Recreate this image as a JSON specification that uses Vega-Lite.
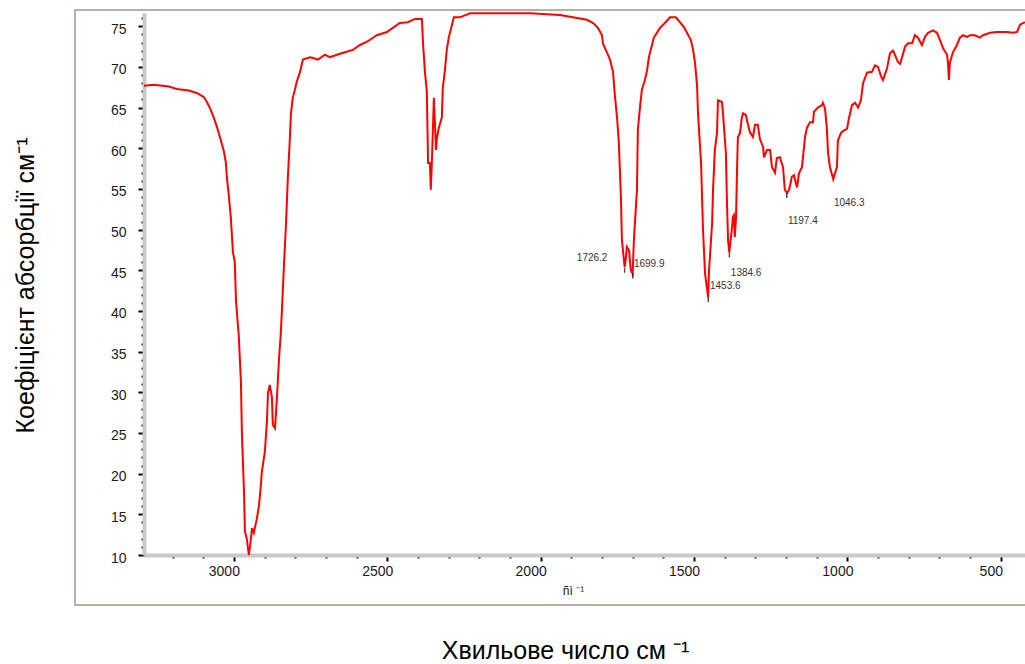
{
  "$schema": "https://vega.github.io/schema/vega-lite/v6.json",
  "width": 960,
  "height": 595,
  "autosize": {"type": "none"},
  "padding": {"left": 75, "top": 10, "right": 0, "bottom": 59},
  "background": "white",
  "config": {"view": {"stroke": "#b5b1a4", "strokeWidth": 2}, "font": "Liberation Sans"},
  "datasets": {
    "spectrum": [
      {"wn":3293,"A":67.7},{"wn":3261,"A":67.8},{"wn":3212,"A":67.6},{"wn":3186,"A":67.3},{"wn":3147,"A":67.1},
      {"wn":3121,"A":66.8},{"wn":3098,"A":66.3},{"wn":3088,"A":65.7},{"wn":3075,"A":64.7},{"wn":3065,"A":63.7},
      {"wn":3055,"A":62.6},{"wn":3042,"A":60.9},{"wn":3033,"A":59.7},{"wn":3026,"A":58.2},{"wn":3023,"A":56.5},
      {"wn":3016,"A":54.0},{"wn":3010,"A":51.5},{"wn":3003,"A":47.2},{"wn":2997,"A":46.0},{"wn":2993,"A":41.2},
      {"wn":2984,"A":36.9},{"wn":2977,"A":31.3},{"wn":2974,"A":25.2},{"wn":2967,"A":17.7},{"wn":2964,"A":12.9},
      {"wn":2958,"A":12.0},{"wn":2951,"A":10.0},{"wn":2945,"A":11.8},{"wn":2941,"A":13.3},{"wn":2935,"A":12.7},
      {"wn":2925,"A":14.5},{"wn":2918,"A":16.1},{"wn":2912,"A":18.6},{"wn":2909,"A":20.2},{"wn":2899,"A":22.7},
      {"wn":2892,"A":26.6},{"wn":2889,"A":29.9},{"wn":2883,"A":30.9},{"wn":2876,"A":29.4},{"wn":2873,"A":26.0},
      {"wn":2866,"A":25.6},{"wn":2860,"A":29.1},{"wn":2853,"A":34.0},{"wn":2847,"A":37.3},{"wn":2843,"A":40.4},
      {"wn":2837,"A":45.4},{"wn":2830,"A":50.8},{"wn":2824,"A":56.4},{"wn":2817,"A":61.6},{"wn":2814,"A":64.3},
      {"wn":2808,"A":66.2},{"wn":2801,"A":67.2},{"wn":2795,"A":68.2},{"wn":2785,"A":69.3},{"wn":2775,"A":70.9},
      {"wn":2752,"A":71.2},{"wn":2742,"A":71.1},{"wn":2726,"A":70.9},{"wn":2703,"A":71.5},{"wn":2687,"A":71.2},
      {"wn":2664,"A":71.5},{"wn":2638,"A":71.8},{"wn":2612,"A":72.1},{"wn":2589,"A":72.7},{"wn":2566,"A":73.1},
      {"wn":2534,"A":73.9},{"wn":2501,"A":74.3},{"wn":2482,"A":74.8},{"wn":2459,"A":75.4},{"wn":2433,"A":75.5},
      {"wn":2410,"A":75.9},{"wn":2387,"A":75.9},{"wn":2384,"A":73.3},{"wn":2377,"A":69.3},{"wn":2371,"A":67.0},
      {"wn":2367,"A":58.2},{"wn":2361,"A":58.2},{"wn":2358,"A":54.9},{"wn":2354,"A":58.9},{"wn":2348,"A":66.2},
      {"wn":2341,"A":59.8},{"wn":2338,"A":61.3},{"wn":2332,"A":62.5},{"wn":2322,"A":63.8},{"wn":2319,"A":67.4},
      {"wn":2312,"A":69.6},{"wn":2306,"A":72.1},{"wn":2299,"A":73.7},{"wn":2289,"A":75.2},{"wn":2283,"A":76.1},
      {"wn":2263,"A":76.1},{"wn":2230,"A":76.6},{"wn":2133,"A":76.6},{"wn":2035,"A":76.6},{"wn":1937,"A":76.4},
      {"wn":1895,"A":76.1},{"wn":1849,"A":75.8},{"wn":1829,"A":75.4},{"wn":1813,"A":74.8},{"wn":1800,"A":73.9},
      {"wn":1797,"A":72.9},{"wn":1784,"A":71.8},{"wn":1774,"A":70.9},{"wn":1764,"A":69.4},{"wn":1758,"A":66.5},
      {"wn":1751,"A":63.8},{"wn":1745,"A":60.7},{"wn":1738,"A":53.6},{"wn":1735,"A":48.7},{"wn":1726,"A":45.4},
      {"wn":1722,"A":46.6},{"wn":1719,"A":47.9},{"wn":1712,"A":47.5},{"wn":1706,"A":45.0},{"wn":1700,"A":44.6},
      {"wn":1696,"A":48.7},{"wn":1686,"A":54.9},{"wn":1683,"A":62.3},{"wn":1676,"A":65.1},{"wn":1670,"A":67.2},
      {"wn":1660,"A":68.4},{"wn":1653,"A":69.6},{"wn":1647,"A":71.2},{"wn":1637,"A":72.7},{"wn":1631,"A":73.6},
      {"wn":1621,"A":74.2},{"wn":1611,"A":74.8},{"wn":1595,"A":75.4},{"wn":1578,"A":76.1},{"wn":1559,"A":76.1},
      {"wn":1546,"A":75.5},{"wn":1533,"A":74.9},{"wn":1523,"A":74.2},{"wn":1510,"A":73.3},{"wn":1503,"A":72.1},
      {"wn":1497,"A":70.6},{"wn":1490,"A":67.7},{"wn":1487,"A":64.3},{"wn":1477,"A":58.2},{"wn":1471,"A":50.3},
      {"wn":1464,"A":44.6},{"wn":1454,"A":41.7},{"wn":1451,"A":45.0},{"wn":1441,"A":50.8},{"wn":1438,"A":54.9},
      {"wn":1432,"A":59.8},{"wn":1425,"A":61.9},{"wn":1422,"A":65.9},{"wn":1409,"A":65.7},{"wn":1406,"A":64.5},
      {"wn":1396,"A":59.4},{"wn":1393,"A":54.0},{"wn":1389,"A":48.7},{"wn":1385,"A":47.2},{"wn":1376,"A":50.3},
      {"wn":1373,"A":51.6},{"wn":1370,"A":51.8},{"wn":1367,"A":49.1},{"wn":1363,"A":51.5},{"wn":1360,"A":57.0},
      {"wn":1357,"A":61.4},{"wn":1350,"A":61.9},{"wn":1344,"A":63.8},{"wn":1340,"A":64.3},{"wn":1331,"A":64.1},
      {"wn":1324,"A":62.9},{"wn":1318,"A":62.0},{"wn":1308,"A":61.4},{"wn":1301,"A":62.9},{"wn":1292,"A":62.9},
      {"wn":1285,"A":61.1},{"wn":1275,"A":60.2},{"wn":1272,"A":58.9},{"wn":1262,"A":59.8},{"wn":1252,"A":59.8},
      {"wn":1246,"A":57.7},{"wn":1236,"A":57.0},{"wn":1230,"A":58.8},{"wn":1220,"A":58.9},{"wn":1210,"A":57.7},
      {"wn":1204,"A":54.9},{"wn":1197,"A":54.5},{"wn":1190,"A":54.9},{"wn":1181,"A":56.5},{"wn":1174,"A":56.7},
      {"wn":1168,"A":55.7},{"wn":1164,"A":55.2},{"wn":1158,"A":56.9},{"wn":1148,"A":57.7},{"wn":1138,"A":61.4},
      {"wn":1132,"A":62.5},{"wn":1122,"A":63.2},{"wn":1112,"A":63.2},{"wn":1109,"A":64.5},{"wn":1096,"A":65.0},
      {"wn":1083,"A":65.3},{"wn":1080,"A":65.6},{"wn":1073,"A":64.9},{"wn":1067,"A":62.5},{"wn":1063,"A":59.4},
      {"wn":1057,"A":57.7},{"wn":1046,"A":56.2},{"wn":1040,"A":57.0},{"wn":1034,"A":57.7},{"wn":1031,"A":60.9},
      {"wn":1021,"A":61.9},{"wn":1011,"A":62.2},{"wn":1001,"A":62.4},{"wn":995,"A":63.7},{"wn":985,"A":65.3},
      {"wn":975,"A":65.6},{"wn":965,"A":65.0},{"wn":956,"A":65.9},{"wn":949,"A":68.0},{"wn":936,"A":69.3},
      {"wn":920,"A":69.4},{"wn":910,"A":70.2},{"wn":900,"A":70.0},{"wn":890,"A":68.8},{"wn":884,"A":68.4},
      {"wn":871,"A":69.8},{"wn":861,"A":71.7},{"wn":851,"A":72.0},{"wn":835,"A":70.6},{"wn":828,"A":70.4},
      {"wn":812,"A":72.5},{"wn":802,"A":72.9},{"wn":789,"A":72.9},{"wn":780,"A":73.9},{"wn":770,"A":73.6},
      {"wn":757,"A":72.7},{"wn":747,"A":73.7},{"wn":737,"A":74.2},{"wn":721,"A":74.5},{"wn":708,"A":74.2},
      {"wn":698,"A":73.3},{"wn":688,"A":72.3},{"wn":675,"A":71.5},{"wn":672,"A":70.5},{"wn":669,"A":68.4},
      {"wn":666,"A":70.5},{"wn":656,"A":71.8},{"wn":643,"A":72.7},{"wn":633,"A":73.6},{"wn":623,"A":73.9},
      {"wn":610,"A":73.7},{"wn":600,"A":73.9},{"wn":584,"A":73.9},{"wn":568,"A":73.6},{"wn":558,"A":73.9},
      {"wn":535,"A":74.2},{"wn":512,"A":74.3},{"wn":480,"A":74.3},{"wn":460,"A":74.2},{"wn":447,"A":74.3},
      {"wn":437,"A":75.2},{"wn":421,"A":75.5}
    ],
    "peaks": [
      {"wn":1882,"A":46.5,"label":"1726.2"},
      {"wn":1696,"A":45.8,"label":"1699.9"},
      {"wn":1448,"A":43.1,"label":"1453.6"},
      {"wn":1380,"A":44.7,"label":"1384.6"},
      {"wn":1194,"A":51.1,"label":"1197.4"},
      {"wn":1044,"A":53.3,"label":"1046.3"}
    ],
    "tips": [
      {"wn":1726.2,"A":45.0},
      {"wn":1699.9,"A":44.3},
      {"wn":1453.6,"A":41.4},
      {"wn":1384.6,"A":46.9},
      {"wn":1197.4,"A":54.2}
    ]
  },
  "layer": [
    {
      "data": {"name": "spectrum"},
      "mark": {"type": "line", "color": "#ff0000", "strokeWidth": 2, "interpolate": "linear"},
      "encoding": {
        "x": {
          "field": "wn", "type": "quantitative",
          "scale": {"domain": [3293, 421], "range": [69, 950], "nice": false, "zero": false},
          "axis": {
            "orient": "bottom", "offset": -50,
            "values": [500,600,700,800,900,1000,1100,1200,1300,1400,1500,1600,1700,1800,1900,2000,2100,2200,2300,2400,2500,2600,2700,2800,2900,3000,3100,3200],
            "format": "d",
            "labelExpr": "datum.value % 500 === 0 ? datum.label : ''",
            "labelOverlap": false, "labelFlush": false,
            "tickSize": {"condition": {"test": "datum.value % 500 === 0", "value": 6}, "value": 3},
            "tickColor": "black", "tickWidth": 2,
            "domainColor": "#c8c8c8", "domainWidth": 4,
            "labelFont": "Liberation Sans", "labelFontSize": 14, "labelColor": "#1a1a1a",
            "labelOffset": -10, "labelPadding": 3,
            "grid": false,
            "title": "ñì ⁻¹", "titleFont": "Liberation Sans", "titleFontSize": 12, "titleFontWeight": "normal",
            "titleColor": "#1a1a1a", "titleX": 498, "titleY": 35, "titleAlign": "center", "titleBaseline": "middle"
          }
        },
        "y": {
          "field": "A", "type": "quantitative",
          "scale": {"domain": [10, 76.67], "range": [545, 2.7], "nice": false, "zero": false},
          "axis": {
            "orient": "left", "offset": -69,
            "values": [10,11,12,13,14,15,16,17,18,19,20,21,22,23,24,25,26,27,28,29,30,31,32,33,34,35,36,37,38,39,40,41,42,43,44,45,46,47,48,49,50,51,52,53,54,55,56,57,58,59,60,61,62,63,64,65,66,67,68,69,70,71,72,73,74,75,76],
            "format": "d",
            "labelExpr": "datum.value % 5 === 0 ? datum.label : ''",
            "labelOverlap": false, "labelFlush": false,
            "tickSize": {"condition": {"test": "datum.value % 5 === 0", "value": 6}, "value": 3},
            "tickColor": "black", "tickWidth": 2,
            "domainColor": "#c8c8c8", "domainWidth": 4,
            "labelFont": "Liberation Sans", "labelFontSize": 14, "labelColor": "#1a1a1a",
            "labelOffset": 3, "labelPadding": 12,
            "grid": false,
            "title": "Коефіцієнт абсорбції см⁻¹",
            "titleFont": "Liberation Sans Narrow, Liberation Sans", "titleFontSize": 25, "titleFontWeight": "normal",
            "titleColor": "black", "titleAngle": 270, "titleX": -119, "titleY": 275,
            "titleAlign": "center", "titleBaseline": "middle"
          }
        }
      }
    },
    {
      "data": {"name": "tips"},
      "mark": {"type": "tick", "orient": "vertical", "size": 5, "thickness": 1.5, "color": "black"},
      "encoding": {
        "x": {"field": "wn", "type": "quantitative", "axis": null},
        "y": {"field": "A", "type": "quantitative", "axis": null}
      }
    },
    {
      "data": {"name": "peaks"},
      "mark": {"type": "text", "font": "Liberation Sans", "fontSize": 10, "color": "#333333", "align": "left", "baseline": "middle"},
      "encoding": {
        "x": {
          "field": "wn", "type": "quantitative",
          "axis": {
            "orient": "bottom", "offset": -50,
            "domain": false, "ticks": false, "labels": false, "grid": false,
            "title": "Хвильове число см ⁻¹",
            "titleFont": "Liberation Sans Narrow, Liberation Sans", "titleFontSize": 25, "titleFontWeight": "normal",
            "titleColor": "black", "titleX": 490, "titleY": 95, "titleAlign": "center", "titleBaseline": "middle"
          }
        },
        "y": {"field": "A", "type": "quantitative", "axis": null},
        "text": {"field": "label", "type": "nominal"}
      }
    }
  ],
  "resolve": {"axis": {"x": "independent", "y": "independent"}}
}
